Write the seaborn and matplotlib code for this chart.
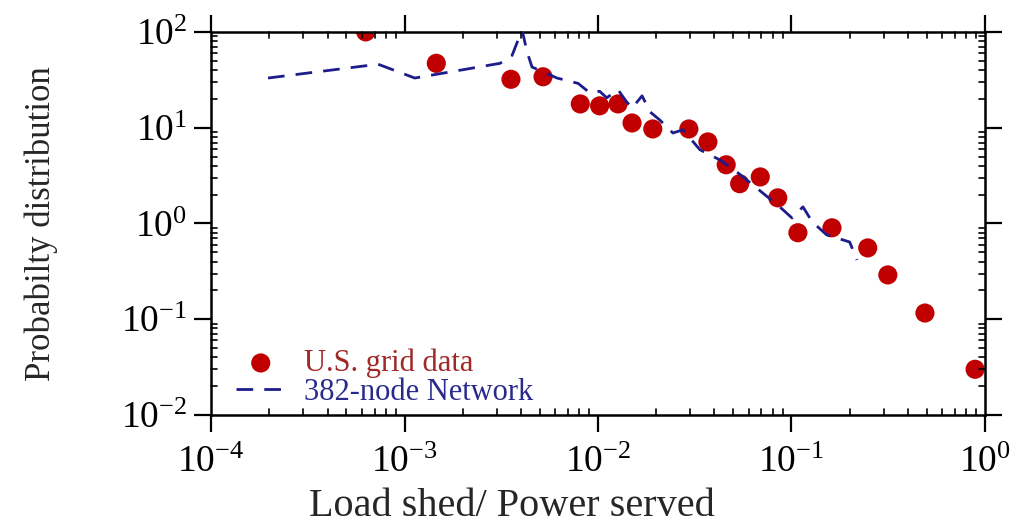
import numpy as np
import matplotlib
matplotlib.use("Agg")
import matplotlib.pyplot as plt
import seaborn as sns
from matplotlib.ticker import NullLocator

# ---------- Data ----------
grid_x = [6.3e-4, 1.46e-3, 3.55e-3, 5.2e-3, 8.1e-3, 1.02e-2, 1.27e-2, 1.5e-2,
          1.92e-2, 2.95e-2, 3.7e-2, 4.6e-2, 5.4e-2, 6.9e-2, 8.5e-2, 0.108,
          0.162, 0.248, 0.315, 0.49, 0.89]
grid_y = [100, 47, 32, 34, 17.7, 16.9, 17.7, 11.2,
          9.7, 9.7, 7.1, 4.1, 2.6, 3.06, 1.85, 0.80,
          0.90, 0.555, 0.29, 0.116, 0.030]

net_x = [1.97e-4, 7.3e-4, 1.13e-3, 3.12e-3, 3.6e-3, 4.05e-3, 4.3e-3, 4.56e-3,
         6.14e-3, 7.9e-3, 9.1e-3, 1.02e-2, 1.11e-2, 1.27e-2, 1.38e-2, 1.5e-2,
         1.69e-2, 1.86e-2, 2.09e-2, 2.44e-2, 2.75e-2, 3.36e-2, 4.27e-2, 5.22e-2,
         6.6e-2, 8.7e-2, 0.1007, 0.1147, 0.128, 0.152, 0.2, 0.218]
net_y = [33, 46, 33, 47, 57, 105, 62, 43,
         33, 29, 23, 24, 20.5, 25, 19.5, 16,
         21.5, 14.6, 12, 8.8, 9.5, 5.9, 4.6, 3.45,
         2.35, 1.49, 1.14, 1.49, 1.04, 0.76, 0.64, 0.416]

grid_label = "U.S. grid data"
net_label = "382-node Network"

dot_color = "#c00000"
line_color = "#1c1c8c"

x_decades = [-4, -3, -2, -1]
y_decades = [-2, -1, 0, 1]

# ---------- Style ----------
sns.set_style("ticks")
plt.rcParams["font.family"] = ["Liberation Serif", "DejaVu Serif"]
plt.rcParams["mathtext.fontset"] = "stix"

fig = plt.figure(figsize=(10.27, 5.32), dpi=100)
ax = fig.add_axes([0.2055, 0.22, 0.7535, 0.72])

sns.scatterplot(x=grid_x, y=grid_y, ax=ax, color=dot_color, s=190,
                edgecolor="none", label=grid_label, zorder=2)
sns.lineplot(x=net_x, y=net_y, ax=ax, color=line_color, lw=2.0,
             label=net_label, zorder=3)
ax.lines[0].set_dashes([6, 4])

ax.set_xscale("log")
ax.set_yscale("log")
ax.set_xlim(1e-4, 1)
ax.set_ylim(1e-2, 1e2)
ax.xaxis.set_minor_locator(NullLocator())
ax.yaxis.set_minor_locator(NullLocator())

for sp in ax.spines.values():
    sp.set_linewidth(1.8)
    sp.set_color("black")

ax.tick_params(which="both", top=True, right=True, colors="black")
ax.tick_params(which="major", direction="out", length=12, width=1.6,
               labelsize=27)
ax.tick_params(axis="x", which="major", pad=10)
ax.tick_params(axis="y", which="major", pad=5)

# ---------- Inward minor ticks (2..9 per decade) on all four sides ----------
minor_x = [m * 10.0 ** e for e in x_decades for m in range(2, 10)]
minor_y = [m * 10.0 ** e for e in y_decades for m in range(2, 10)]
len_y = 0.016   # fraction of axes height
len_x = 0.008   # fraction of axes width
xtr = ax.get_xaxis_transform()
ytr = ax.get_yaxis_transform()
for v in minor_x:
    ax.plot([v, v], [0, len_y], transform=xtr, color="black", lw=1.2,
            clip_on=False, zorder=4)
    ax.plot([v, v], [1 - len_y, 1], transform=xtr, color="black", lw=1.2,
            clip_on=False, zorder=4)
for v in minor_y:
    ax.plot([0, len_x], [v, v], transform=ytr, color="black", lw=1.2,
            clip_on=False, zorder=4)
    ax.plot([1 - len_x, 1], [v, v], transform=ytr, color="black", lw=1.2,
            clip_on=False, zorder=4)

ax.set_xlabel("Load shed/ Power served", fontsize=29)
ax.xaxis.set_label_coords(0.389, -0.19)
ax.set_ylabel("Probabilty distribution", fontsize=25)
ax.yaxis.set_label_coords(-0.198, 0.5)

handles, labels = ax.get_legend_handles_labels()
leg = ax.legend(handles, labels, loc="lower left", bbox_to_anchor=(0.005, -0.035),
                frameon=False, fontsize=22, handlelength=1.6,
                handletextpad=0.6, labelspacing=0.0, borderaxespad=0.3)
leg.legend_handles[1].set_dashes([6, 4])
for txt, col in zip(leg.get_texts(), ["#a02828", "#2a2a8c"]):
    txt.set_color(col)

fig.savefig("out.png", dpi=100)
